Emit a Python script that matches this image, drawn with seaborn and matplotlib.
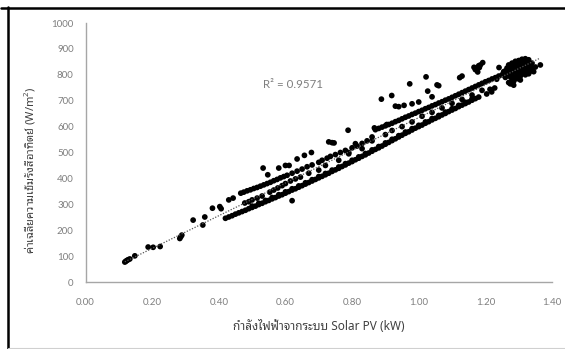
import matplotlib
matplotlib.use("Agg")
import matplotlib.pyplot as plt
from matplotlib.lines import Line2D
import seaborn as sns
import numpy as np
import pandas as pd

# Solar PV output (kW) vs. mean solar irradiance (W/m^2)

# sparse low-output readings
pv_low = [0.118, 0.121, 0.124, 0.128, 0.133, 0.148, 0.188, 0.203, 0.224, 0.283,
          0.286, 0.289, 0.323, 0.352, 0.358, 0.381, 0.403, 0.407, 0.430, 0.443]
irr_low = [77, 80, 83, 86, 89, 101, 135, 134, 137, 168,
           175, 181, 239, 220, 251, 285, 291, 283, 317, 324]

# lower dense stream
pv_lower = [0.42, 0.43, 0.44, 0.45, 0.46, 0.47, 0.48, 0.49, 0.50, 0.51, 0.52, 0.53,
            0.54, 0.55, 0.56, 0.57, 0.58, 0.59, 0.60, 0.61, 0.62, 0.63, 0.64, 0.65,
            0.66, 0.67, 0.68, 0.69, 0.70, 0.71, 0.72, 0.73, 0.74, 0.75, 0.76, 0.77,
            0.78, 0.79, 0.80, 0.81, 0.82, 0.83, 0.84, 0.85, 0.86, 0.87, 0.88, 0.89,
            0.90, 0.91, 0.92, 0.93, 0.94, 0.95, 0.96, 0.97, 0.98, 0.99, 1.00, 1.01,
            1.02, 1.03, 1.04, 1.05, 1.06, 1.07, 1.08, 1.09, 1.10, 1.11, 1.12, 1.13,
            1.14, 1.15, 1.16, 1.17, 1.18,
            0.50, 0.52, 0.54, 0.56, 0.58, 0.60, 0.62, 0.64, 0.66, 0.68, 0.70, 0.72,
            0.74, 0.76, 0.78, 0.80, 0.82, 0.84, 0.86, 0.88, 0.90, 0.92, 0.94, 0.96,
            0.98, 1.00, 1.02, 1.04, 1.06, 1.08, 1.10, 1.12, 1.14, 1.16]
irr_lower = [246, 251, 256, 262, 267, 272, 277, 283, 288, 293, 299, 304,
             310, 315, 321, 326, 332, 337, 343, 349, 355, 360, 366, 372,
             378, 384, 390, 396, 402, 408, 414, 420, 427, 433, 439, 446,
             452, 459, 465, 472, 478, 485, 491, 498, 505, 512, 518, 525,
             532, 539, 546, 553, 560, 567, 574, 580, 587, 594, 600, 606,
             613, 619, 626, 632, 638, 645, 651, 658, 664, 670, 677, 683,
             689, 695, 702, 708, 714,
             293, 304, 315, 326, 337, 348, 360, 371, 383, 395, 407, 419,
             432, 444, 457, 470, 483, 496, 510, 523, 537, 551, 565, 579,
             592, 605, 618, 631, 643, 656, 669, 682, 694, 707]

# upper stream at low output, then scattered
pv_upper = [0.466, 0.475, 0.485, 0.495, 0.505, 0.515, 0.525, 0.535, 0.545, 0.555,
            0.565, 0.575, 0.585, 0.595, 0.605, 0.62, 0.635, 0.65, 0.665, 0.68,
            0.70, 0.71, 0.725, 0.735, 0.75, 0.765, 0.78, 0.79, 0.80, 0.815,
            0.83, 0.845, 0.86]
irr_upper = [343, 347, 352, 356, 361, 365, 370, 375, 380, 385,
             391, 396, 402, 407, 412, 420, 428, 436, 445, 452,
             462, 470, 478, 485, 492, 500, 508, 500, 518, 525,
             535, 545, 560]

# middle row between the two streams
pv_mid = [0.478, 0.49, 0.50, 0.515, 0.53, 0.553, 0.565, 0.577, 0.59, 0.60,
          0.615, 0.63, 0.645, 0.67, 0.70, 0.72, 0.76, 0.79, 0.83, 0.86,
          0.92, 0.95, 0.98, 1.01, 1.04, 1.07, 1.10, 1.13, 1.16, 1.19,
          1.204, 1.214, 1.219, 1.228, 1.234]
irr_mid = [305, 310, 317, 324, 332, 347, 355, 363, 372, 380,
           390, 398, 405, 420, 432, 450, 470, 495, 515, 545,
           585, 600, 618, 640, 655, 672, 690, 705, 722, 740,
           726, 744, 734, 749, 783]

# dense high stream
pv_high = [0.87, 0.88, 0.89, 0.90, 0.91, 0.92, 0.93, 0.94, 0.95, 0.96, 0.97, 0.98,
           0.99, 1.00, 1.01, 1.02, 1.03, 1.04, 1.05, 1.06, 1.07, 1.08, 1.09, 1.10,
           1.11, 1.12, 1.13, 1.14, 1.15, 1.16, 1.17, 1.18, 1.19, 1.20, 1.21, 1.22,
           1.23, 1.24]
irr_high = [588, 593, 598, 603, 608, 613, 619, 624, 630, 636, 641, 647,
            652, 658, 663, 669, 674, 680, 685, 691, 696, 702, 707, 713,
            719, 725, 731, 737, 743, 749, 755, 761, 767, 773, 778, 784,
            789, 795]

# peak-hour cluster
pv_peak = [1.25, 1.26, 1.26, 1.27, 1.27, 1.27, 1.28, 1.28, 1.28, 1.28, 1.29, 1.29,
           1.29, 1.29, 1.30, 1.30, 1.30, 1.30, 1.31, 1.31, 1.31, 1.31, 1.32, 1.32,
           1.32, 1.32, 1.33, 1.33, 1.33, 1.34, 1.34, 1.35, 1.365, 1.275, 1.285,
           1.295, 1.305, 1.315, 1.325, 1.265, 1.28, 1.30, 1.32, 1.34,
           1.255, 1.265, 1.275, 1.285, 1.295, 1.305, 1.315, 1.325, 1.335, 1.345,
           1.27, 1.29, 1.31, 1.33, 1.285, 1.305]
irr_peak = [800, 790, 815, 770, 805, 825, 780, 800, 820, 835, 790, 810,
            830, 845, 800, 815, 835, 855, 805, 825, 840, 860, 815, 830,
            850, 862, 820, 840, 858, 825, 845, 830, 838, 765, 775,
            785, 795, 812, 818, 808, 845, 790, 800, 815,
            812, 826, 792, 812, 822, 846, 850, 834, 832, 812,
            838, 852, 818, 804, 760, 780]

# isolated readings
pv_iso = [0.533, 0.547, 0.58, 0.60, 0.611, 0.635, 0.657, 0.678, 0.73, 0.746,
          0.788, 0.81, 0.888, 0.919, 0.973, 1.022, 1.027, 1.055, 1.123, 1.166,
          1.182, 1.192, 1.177, 1.241, 0.93, 0.94, 0.956, 0.867, 0.904, 0.90,
          0.62, 1.06, 1.13, 1.185, 1.17, 1.18, 0.98, 1.00, 1.04, 0.74]
irr_iso = [440, 414, 440, 450, 450, 475, 489, 500, 541, 537,
           586, 534, 706, 720, 765, 792, 737, 761, 789, 829,
           828, 847, 811, 828, 679, 677, 682, 595, 608, 569,
           314, 758, 795, 838, 820, 835, 688, 695, 715, 538]

x_ticks = [0.0, 0.2, 0.4, 0.6, 0.8, 1.0, 1.2, 1.4]
y_ticks = [0, 100, 200, 300, 400, 500, 600, 700, 800, 900, 1000]
r2_label = "R² = 0.9571"
x_title = "กำลังไฟฟ้าจากระบบ Solar PV (kW)"
y_title = "ค่าเฉลี่ยความเข้มรังสีอาทิตย์ (W/m$^2$)"

df = pd.DataFrame({
    "pv": pv_low + pv_lower + pv_upper + pv_mid + pv_high + pv_peak + pv_iso,
    "irr": irr_low + irr_lower + irr_upper + irr_mid + irr_high + irr_peak + irr_iso,
})

sns.set_theme(style="white")
thai = ["Noto Sans Thai Looped", "Noto Sans", "DejaVu Sans"]
latin = ["Lato", "DejaVu Sans"]
plt.rcParams["font.family"] = latin
plt.rcParams["mathtext.fontset"] = "custom"
plt.rcParams["mathtext.rm"] = "Noto Sans"

fig = plt.figure(figsize=(5.65, 3.49), dpi=100)
ax = fig.add_axes([85.5 / 565, 67 / 349, 466.5 / 565, 259 / 349])

sns.scatterplot(data=df, x="pv", y="irr", ax=ax, color="black", s=17,
                edgecolor="none", linewidth=0, legend=False, zorder=3)
sns.regplot(data=df, x="pv", y="irr", ax=ax, scatter=False, ci=None,
            line_kws=dict(color="#555555", lw=0.9, ls=(0, (1, 1.3)), zorder=4))

ax.set_xlim(0, 1.4)
ax.set_ylim(0, 1000)
ax.set_xticks(x_ticks)
ax.set_xticklabels([f"{v:.2f}" for v in x_ticks])
ax.set_yticks(y_ticks)
ax.set_yticklabels([str(v) for v in y_ticks])

grey = "#a6a6a6"
for side in ["top", "right"]:
    ax.spines[side].set_visible(False)
for side in ["left", "bottom"]:
    ax.spines[side].set_color(grey)
    ax.spines[side].set_linewidth(1.0)
ax.tick_params(axis="both", which="major", direction="out", length=3.5, width=0.9,
               color=grey, labelcolor="#7f7f7f", labelsize=7, pad=5)
ax.tick_params(axis="x", pad=8)

ax.set_xlabel(x_title, family=thai, fontsize=8.5, color="#404040")
ax.xaxis.set_label_coords(0.5, -0.145)
ax.set_ylabel(y_title, family=thai, fontsize=8, color="#404040")
ax.yaxis.set_label_coords(-0.105, 0.43)

ax.text(0.622, 764, r2_label, fontsize=8.3, color="#7f7f7f", ha="center", va="center")

# outer frame
fig.add_artist(Line2D([0.5 / 565, 565 / 565], [1 - 7.5 / 349, 1 - 7.5 / 349],
                      transform=fig.transFigure, color="black", lw=1.8))
fig.add_artist(Line2D([8 / 565, 8 / 565], [0, 1 - 6.5 / 349],
                      transform=fig.transFigure, color="black", lw=1.8))
fig.add_artist(Line2D([8 / 565, 1], [1.5 / 349, 1.5 / 349],
                      transform=fig.transFigure, color="#d0d0d0", lw=0.8))

fig.savefig("out.png", dpi=100)
